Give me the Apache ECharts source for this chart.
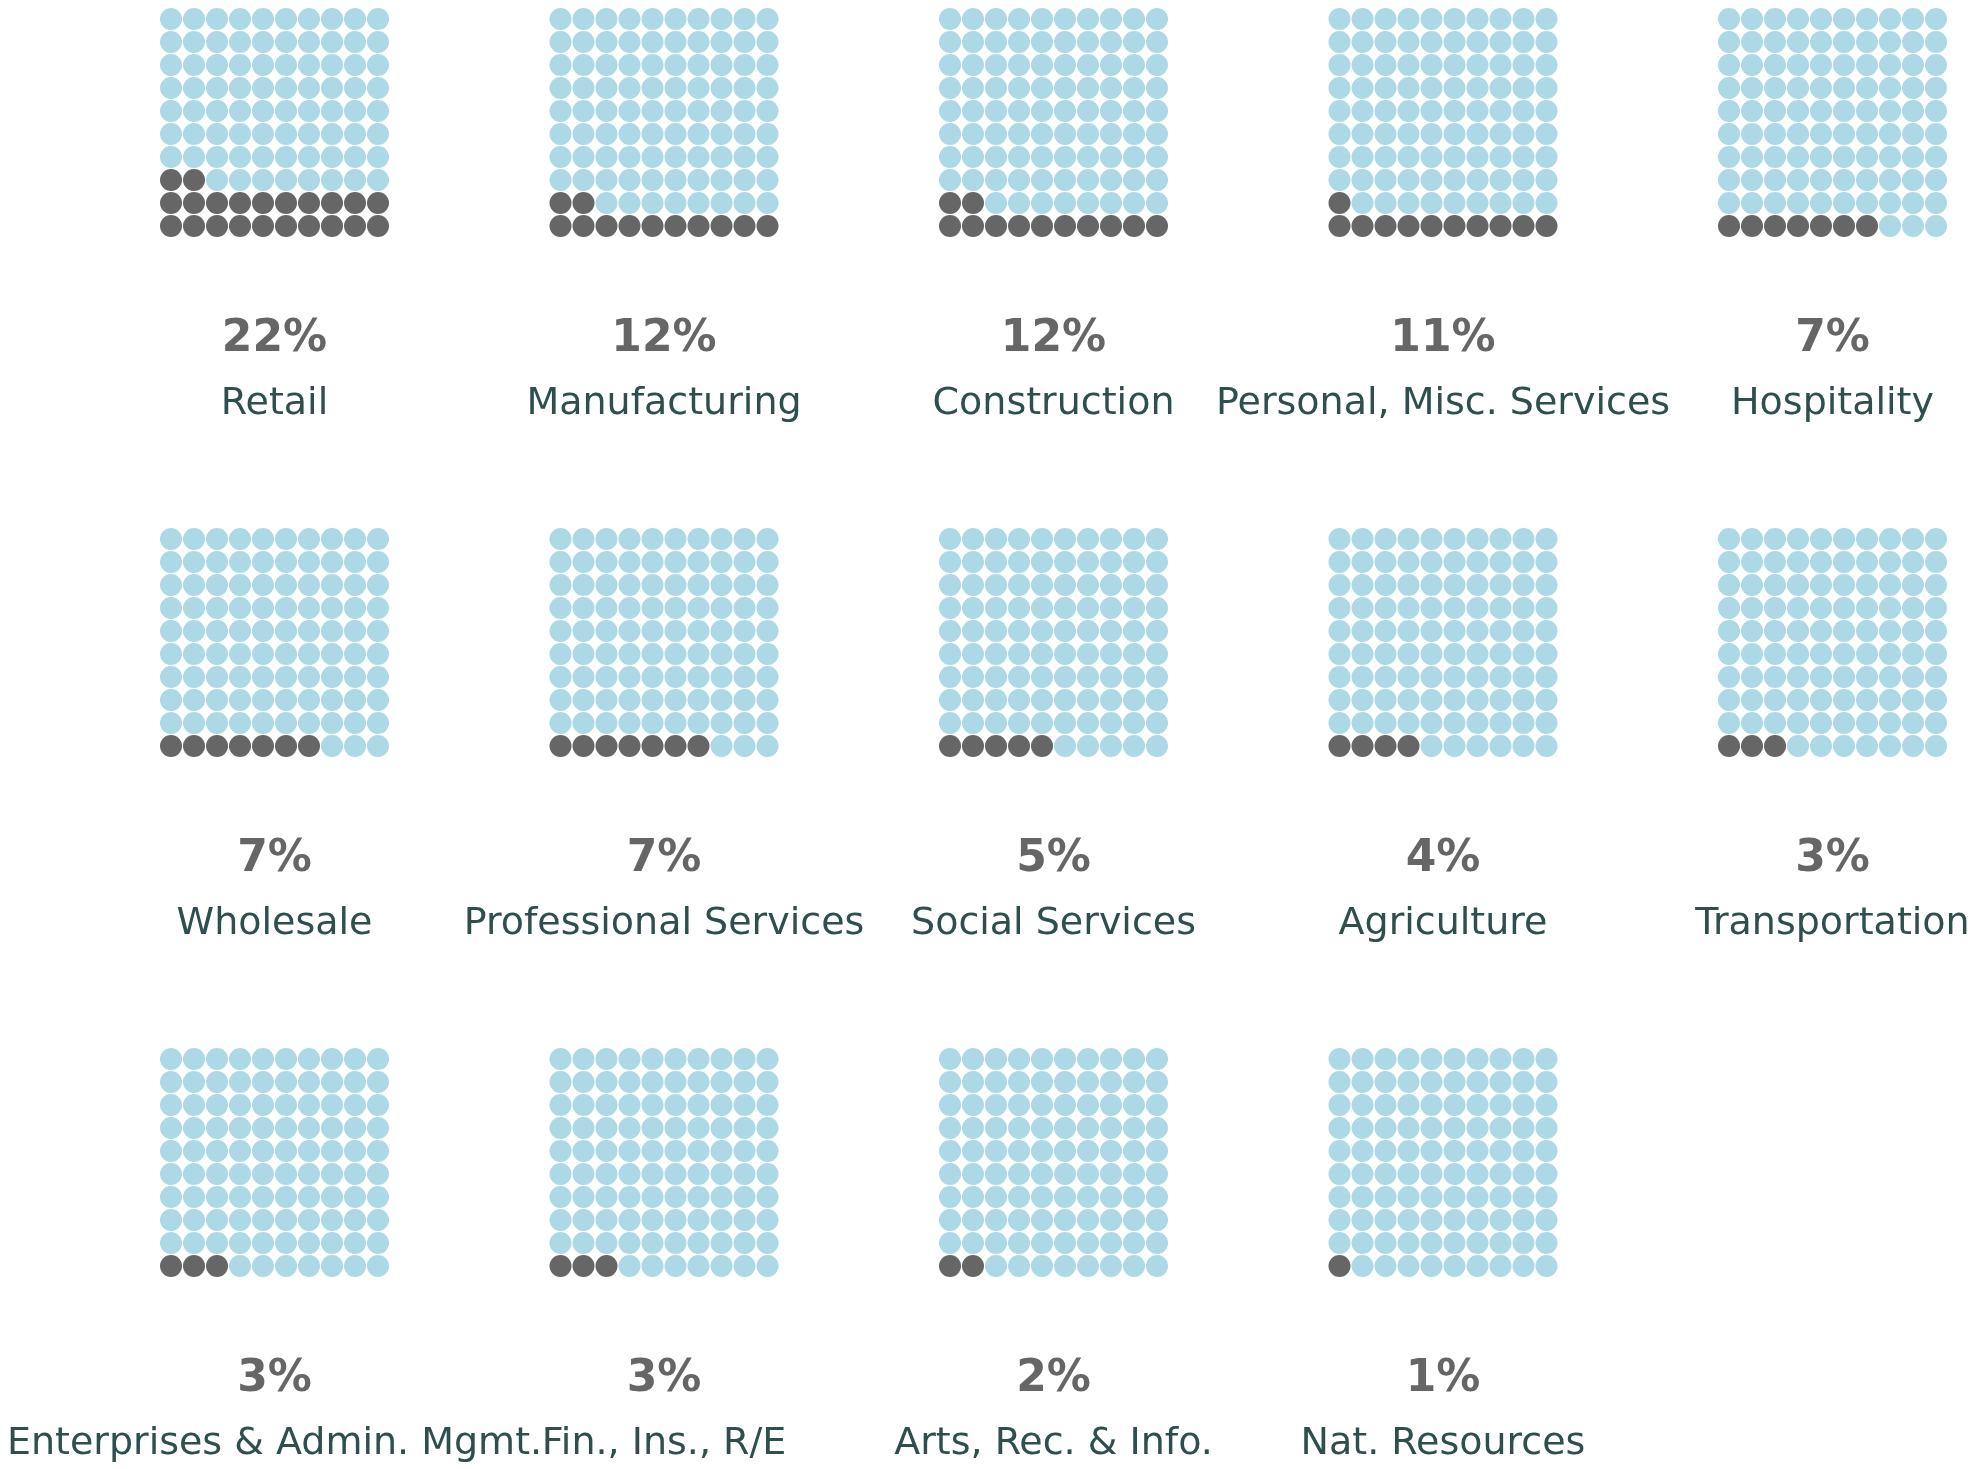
<!DOCTYPE html>
<html>
<head>
<meta charset="utf-8">
<title>Waffle chart - industries</title>
<script src="https://cdn.jsdelivr.net/npm/echarts@6/dist/echarts.min.js"></script>
<style>
  html, body { margin: 0; padding: 0; background: #ffffff; }
  #chart { width: 1968px; height: 1469px; }
</style>
</head>
<body>
<div id="chart"></div>
<script>
// data
var industries = ['Retail', 'Manufacturing', 'Construction', 'Personal, Misc. Services', 'Hospitality',
    'Wholesale', 'Professional Services', 'Social Services', 'Agriculture', 'Transportation',
    'Enterprises & Admin. Mgmt.', 'Fin., Ins., R/E', 'Arts, Rec. & Info.', 'Nat. Resources'];
var shares = [22, 12, 12, 11, 7, 7, 7, 5, 4, 3, 3, 3, 2, 1];

var FILLED = '#666666';
var EMPTY = '#add8e6';

// layout of the small multiples
var colCenters = [274.5, 664, 1053.5, 1443, 1832.5];
var rowTops = [19, 539, 1059];   // centre of the top row of dots
var cell = 23;
var perRow = 5;

// 10x10 dots, filled from the bottom row, left to right
function waffleData(pct) {
    var arr = [];
    for (var k = 0; k < 100; k++) {
        var col = k % 10;
        var row = Math.floor(k / 10);
        arr.push({ value: [col, row], itemStyle: { color: k < pct ? FILLED : EMPTY } });
    }
    return arr;
}

function buildOption() {
    var grids = [], xAxes = [], yAxes = [], series = [], texts = [];

    for (var i = 0; i < industries.length; i++) {
        var cx = colCenters[i % perRow];
        var rowY = rowTops[Math.floor(i / perRow)];

        grids.push({ left: cx - cell * 5, top: rowY - cell / 2, width: cell * 10, height: cell * 10 });
        xAxes.push({ type: 'value', gridIndex: i, min: -0.5, max: 9.5, show: false });
        yAxes.push({ type: 'value', gridIndex: i, min: -0.5, max: 9.5, show: false });
        series.push({
            type: 'scatter',
            name: industries[i],
            xAxisIndex: i,
            yAxisIndex: i,
            symbol: 'circle',
            symbolSize: 22,
            silent: true,
            itemStyle: { opacity: 1 },
            data: waffleData(shares[i])
        });

        texts.push({
            type: 'text',
            x: cx,
            y: rowY + 321,
            style: {
                text: shares[i] + '%',
                align: 'center',
                verticalAlign: 'middle',
                font: 'bold 44px "DejaVu Sans", Verdana, sans-serif',
                fill: '#666666'
            }
        });
        texts.push({
            type: 'text',
            x: cx,
            y: rowY + 385,
            style: {
                text: industries[i],
                align: 'center',
                verticalAlign: 'middle',
                font: '38px "DejaVu Sans", Verdana, sans-serif',
                fill: '#2f4f4f'
            }
        });
    }

    return {
        backgroundColor: '#ffffff',
        animation: false,
        grid: grids,
        xAxis: xAxes,
        yAxis: yAxes,
        series: series,
        graphic: { elements: texts }
    };
}

var chart = echarts.init(document.getElementById('chart'), null, { renderer: 'canvas' });
chart.setOption(buildOption());
</script>
</body>
</html>
